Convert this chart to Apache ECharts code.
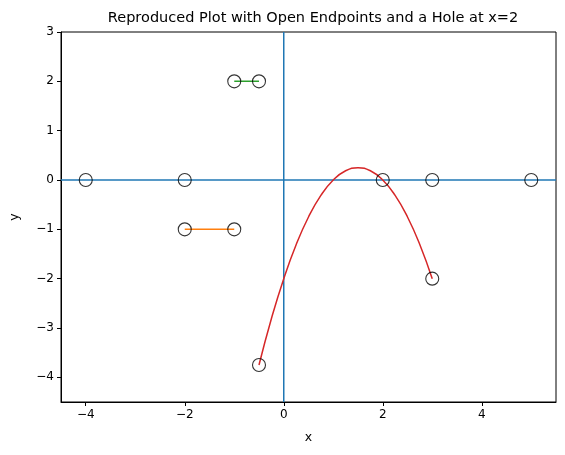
<!DOCTYPE html>
<html><head><meta charset="utf-8">
<script src="https://cdn.jsdelivr.net/npm/echarts@6/dist/echarts.min.js"></script>
<style>html,body{margin:0;padding:0;background:#fff}#c{width:565px;height:455px}</style>
</head><body><div id="c"></div>
<script>
const xTicks = [-4, -2, 0, 2, 4];
const yTicks = [-4, -3, -2, -1, 0, 1, 2, 3];
const curveX = [-0.5,-0.25,0,0.25,0.5,0.75,1,1.25,1.5,1.75,2,2.25,2.5,2.75,3];
const curveY = [-3.75,-2.8125,-2,-1.3125,-0.75,-0.3125,0,0.1875,0.25,0.1875,0,-0.3125,-0.75,-1.3125,-2];
const orangeSeg = [[-2,-1],[-1,-1]];
const greenSeg = [[-1,2],[-0.5,2]];
const openPoints = [[-4,0],[-2,0],[-2,-1],[-1,-1],[-1,2],[-0.5,2],[-0.5,-3.75],[2,0],[3,0],[5,0],[3,-2]];
const xRange = [-4.5, 5.5];
const yRange = [-4.5, 3];

const chart = echarts.init(document.getElementById('c'));
const font = 'DejaVu Sans';
chart.setOption({
  animation: false,
  title: {text: 'Reproduced Plot with Open Endpoints and a Hole at x=2', left: 308, top: 6, textAlign: 'center',
    textStyle: {fontFamily: font, fontSize: 14.5, fontWeight: 'normal', color: '#000'}},
  grid: {left: 60, right: 9, top: 32, bottom: 53, show: true, borderColor: '#000', borderWidth: 1},
  xAxis: {type: 'value', min: xRange[0], max: xRange[1], name: 'x', nameLocation: 'middle', nameGap: 29,
    nameTextStyle: {fontFamily: font, fontSize: 12.5, color: '#000'},
    axisLine: {onZero: false, lineStyle: {color: '#000'}}, splitLine: {show: false},
    axisTick: {customValues: xTicks, length: 4, inside: false, lineStyle: {color: '#000'}},
    axisLabel: {customValues: xTicks, fontFamily: font, fontSize: 12, color: '#000', margin: 7,
      formatter: v => String(v).replace('-', '\u2212')}},
  yAxis: {type: 'value', min: yRange[0], max: yRange[1], name: 'y', nameLocation: 'middle', nameGap: 40,
    nameTextStyle: {fontFamily: font, fontSize: 12.5, color: '#000'},
    axisLine: {show: true, onZero: false, lineStyle: {color: '#000'}}, splitLine: {show: false},
    axisTick: {show: true, customValues: yTicks, length: 4, lineStyle: {color: '#000'}},
    axisLabel: {customValues: yTicks, fontFamily: font, fontSize: 12, color: '#000', margin: 7,
      formatter: v => String(v).replace('-', '\u2212')}},
  series: [
    {type: 'line', data: [[0, yRange[0]], [0, yRange[1]]], symbol: 'none', lineStyle: {color: '#1f77b4', width: 1.5}},
    {type: 'line', data: [[xRange[0], 0], [xRange[1], 0]], symbol: 'none', lineStyle: {color: '#1f77b4', width: 1.5}},
    {type: 'line', data: curveX.map((x, i) => [x, curveY[i]]), smooth: true, symbol: 'none', lineStyle: {color: '#d62728', width: 1.5}},
    {type: 'line', data: orangeSeg, symbol: 'none', lineStyle: {color: '#ff7f0e', width: 1.5}},
    {type: 'line', data: greenSeg, symbol: 'none', lineStyle: {color: '#2ca02c', width: 1.5}},
    {type: 'scatter', data: openPoints, symbol: 'circle', symbolSize: 13, z: 5,
      itemStyle: {color: 'rgba(0,0,0,0)', borderColor: '#000', borderWidth: 1.1}}
  ]
});
</script></body></html>
